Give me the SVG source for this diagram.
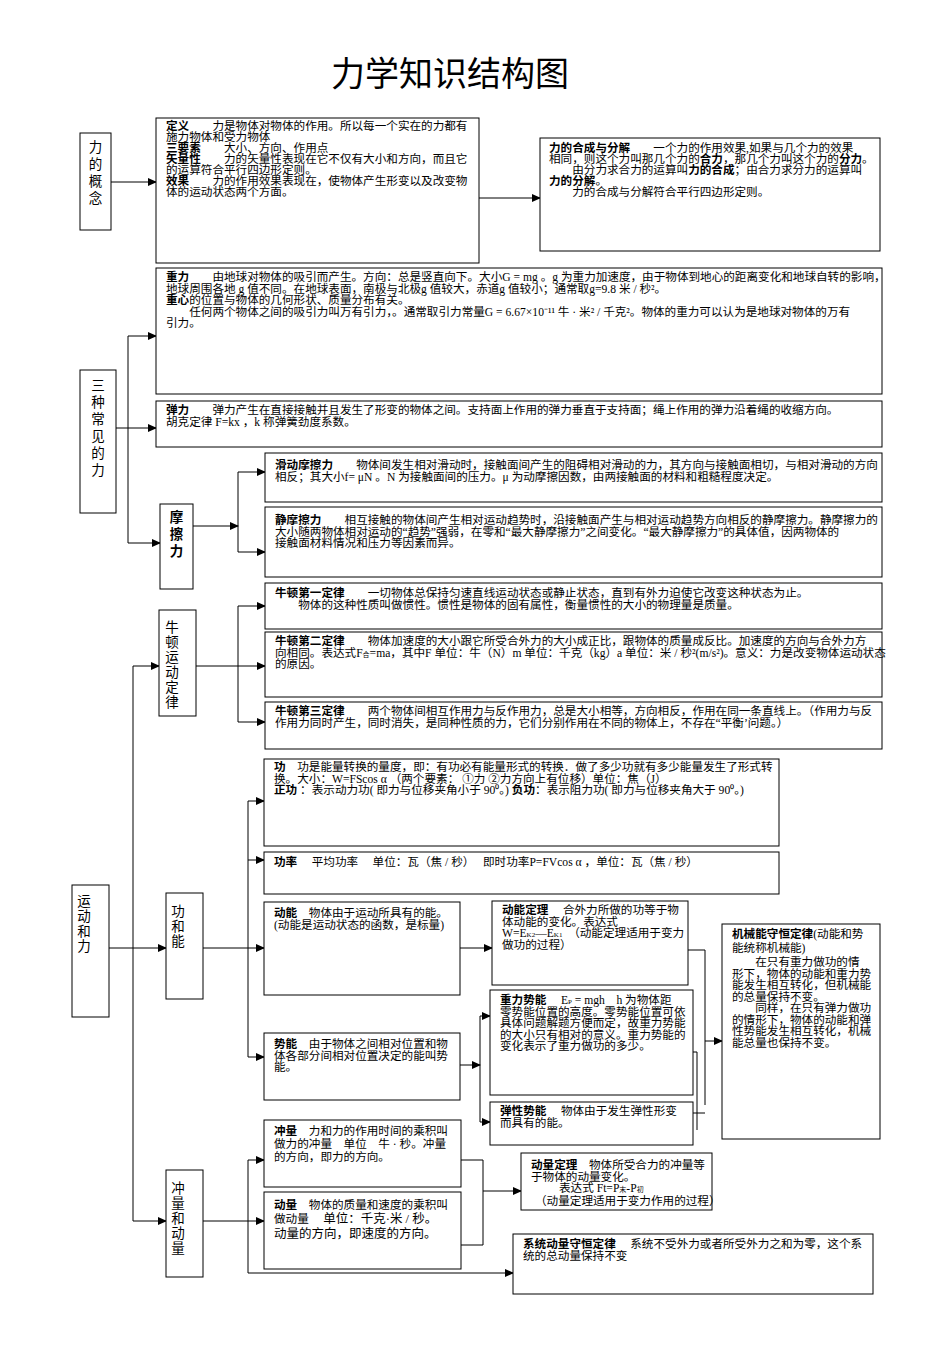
<svg xmlns="http://www.w3.org/2000/svg" width="950" height="1346" viewBox="0 0 950 1346">
<style>
.b{fill:#fff;stroke:#000;stroke-width:1}
text{font-family:"Liberation Serif","Noto Sans CJK SC",serif;font-size:11.6px;fill:#000}
.k{font-weight:bold;font-family:"Liberation Sans","Noto Sans CJK SC",sans-serif}
.v{font-size:13.5px;text-anchor:middle}
.c path{fill:none;stroke:#000;stroke-width:1}
.c .a{marker-end:url(#ar)}
</style>
<defs><marker id="ar" markerWidth="9" markerHeight="8" refX="8" refY="4" orient="auto" markerUnits="userSpaceOnUse"><path d="M0,0L9,4L0,8z" fill="#000"/></marker></defs>
<rect width="950" height="1346" fill="#fff"/>
<text x="450" y="86" style="font-size:34px;text-anchor:middle;font-family:'Liberation Sans','Noto Sans CJK SC',sans-serif">力学知识结构图</text>

<g class="c">
<path class="a" d="M111,182H156"/>
<path class="a" d="M479,198H540"/>
<path class="a" d="M116,428H156"/>
<path class="a" d="M128,428V336H156"/>
<path class="a" d="M128,428V543H160"/>
<path class="a" d="M193,526H238"/>
<path class="a" d="M238,526V472H265"/>
<path class="a" d="M238,526V552H265"/>
<path class="a" d="M109,948H166"/>
<path class="a" d="M133,948V666H159"/>
<path class="a" d="M133,948V1221H166"/>
<path class="a" d="M196,666H265"/>
<path class="a" d="M238,666V606H265"/>
<path class="a" d="M238,666V722H265"/>
<path class="a" d="M203,948H264"/>
<path class="a" d="M248,948V801H264"/>
<path class="a" d="M248,860H264"/>
<path class="a" d="M248,948V1057H264"/>
<path class="a" d="M460,948H492"/>
<path class="a" d="M460,1065H480"/>
<path class="a" d="M480,1065V1016H490"/>
<path class="a" d="M480,1065V1122H490"/>
<path d="M688,950H705V1105"/>
<path d="M693,1052H697V1130"/>
<path d="M693,1113H705"/>
<path class="a" d="M705,1041H722"/>
<path d="M461,1160H483V1245H461"/>
<path class="a" d="M483,1191H521"/>
<path class="a" d="M203,1221H264"/>
<path class="a" d="M248,1221V1160H264"/>
<path class="a" d="M248,1221V1273H513"/>
</g>

<g id="n-liconcept"><rect class="b" x="80" y="133" width="31" height="97"/><text class="v" x="95.5"><tspan x="95.5" y="152">力</tspan><tspan x="95.5" y="169">的</tspan><tspan x="95.5" y="186">概</tspan><tspan x="95.5" y="203">念</tspan></text></g>

<g id="n-def"><rect class="b" x="156" y="118" width="323" height="145"/><text x="166" y="130"><tspan class="k">定义</tspan>　　力是物体对物体的作用。所以每一个实在的力都有<tspan x="166" dy="11">施力物体和受力物体</tspan><tspan x="166" dy="11" class="k">三要素</tspan>　　大小、方向、作用点<tspan x="166" dy="11" class="k">矢量性</tspan>　　力的矢量性表现在它不仅有大小和方向，而且它<tspan x="166" dy="11">的运算符合平行四边形定则。</tspan><tspan x="166" dy="11" class="k">效果</tspan>　　力的作用效果表现在，使物体产生形变以及改变物<tspan x="166" dy="11">体的运动状态两个方面。</tspan></text></g>

<g id="n-compose"><rect class="b" x="540" y="138" width="340" height="113"/><text x="549" y="152"><tspan class="k">力的合成与分解</tspan>　　一个力的作用效果,如果与几个力的效果<tspan x="549" dy="11">相同，则这个力叫那几个力的</tspan><tspan class="k">合力</tspan>，那几个力叫这个力的<tspan class="k">分力</tspan>。<tspan x="549" dy="11">　　由分力求合力的运算叫</tspan><tspan class="k">力的合成</tspan>；由合力求分力的运算叫<tspan x="549" dy="11" class="k">力的分解</tspan>。<tspan x="549" dy="11">　　力的合成与分解符合平行四边形定则。</tspan></text></g>

<g id="n-three"><rect class="b" x="80" y="370" width="36" height="143"/><text class="v" x="98"><tspan x="98" y="390">三</tspan><tspan x="98" y="407">种</tspan><tspan x="98" y="424">常</tspan><tspan x="98" y="441">见</tspan><tspan x="98" y="458">的</tspan><tspan x="98" y="475">力</tspan></text></g>

<g id="n-gravity"><rect class="b" x="156" y="268" width="726" height="126"/><text x="166" y="281"><tspan class="k">重力</tspan>　　由地球对物体的吸引而产生。方向：总是竖直向下。大小G = mg 。g 为重力加速度，由于物体到地心的距离变化和地球自转的影响，<tspan x="166" dy="11.5">地球周围各地 g 值不同。在地球表面，南极与北极g 值较大，赤道g 值较小；通常取g=9.8 米 / 秒²。</tspan><tspan x="166" dy="11.5" class="k">重心</tspan>的位置与物体的几何形状、质量分布有关。<tspan x="166" dy="11.5">　　任何两个物体之间的吸引力叫万有引力，。通常取引力常量G = 6.67×10⁻¹¹ 牛 · 米² / 千克²。物体的重力可以认为是地球对物体的万有</tspan><tspan x="166" dy="11.5">引力。</tspan></text></g>

<g id="n-elastic"><rect class="b" x="156" y="401" width="726" height="46"/><text x="166" y="414"><tspan class="k">弹力</tspan>　　弹力产生在直接接触并且发生了形变的物体之间。支持面上作用的弹力垂直于支持面；绳上作用的弹力沿着绳的收缩方向。<tspan x="166" dy="11.5">胡克定律 F=kx ，k 称弹簧劲度系数。</tspan></text></g>

<g id="n-friction"><rect class="b" x="160" y="504" width="33" height="85"/><text class="v k" x="176.5"><tspan x="176.5" y="522">摩</tspan><tspan x="176.5" y="539">擦</tspan><tspan x="176.5" y="556">力</tspan></text></g>

<g id="n-slide"><rect class="b" x="265" y="453" width="617" height="49"/><text x="275" y="469"><tspan class="k">滑动摩擦力</tspan>　　物体间发生相对滑动时，接触面间产生的阻碍相对滑动的力，其方向与接触面相切，与相对滑动的方向<tspan x="275" dy="11.5">相反；其大小f= μN 。N 为接触面间的压力。μ 为动摩擦因数，由两接触面的材料和粗糙程度决定。</tspan></text></g>

<g id="n-static"><rect class="b" x="265" y="507" width="617" height="70"/><text x="275" y="524"><tspan class="k">静摩擦力</tspan>　　相互接触的物体间产生相对运动趋势时，沿接触面产生与相对运动趋势方向相反的静摩擦力。静摩擦力的<tspan x="275" dy="11.5">大小随两物体相对运动的“趋势”强弱，在零和“最大静摩擦力”之间变化。“最大静摩擦力”的具体值，因两物体的</tspan><tspan x="275" dy="11.5">接触面材料情况和压力等因素而异。</tspan></text></g>

<g id="n-newton"><rect class="b" x="159" y="610" width="37" height="106"/><text class="v" x="172"><tspan x="172" y="632">牛</tspan><tspan x="172" y="647">顿</tspan><tspan x="172" y="662">运</tspan><tspan x="172" y="677">动</tspan><tspan x="172" y="692">定</tspan><tspan x="172" y="707">律</tspan></text></g>

<g id="n-n1"><rect class="b" x="265" y="583" width="617" height="46"/><text x="275" y="597"><tspan class="k">牛顿第一定律</tspan>　　一切物体总保持匀速直线运动状态或静止状态，直到有外力迫使它改变这种状态为止。<tspan x="275" dy="11.5">　　物体的这种性质叫做惯性。惯性是物体的固有属性，衡量惯性的大小的物理量是质量。</tspan></text></g>

<g id="n-n2"><rect class="b" x="265" y="632" width="617" height="65"/><text x="275" y="645"><tspan class="k">牛顿第二定律</tspan>　　物体加速度的大小跟它所受合外力的大小成正比，跟物体的质量成反比。加速度的方向与合外力方<tspan x="275" dy="11.5">向相同。表达式F</tspan><tspan font-size="7">合</tspan>=ma，其中F 单位：牛（N）m 单位：千克（kg）a 单位：米 / 秒²(m/s²)。意义：力是改变物体运动状态<tspan x="275" dy="11.5">的原因。</tspan></text></g>

<g id="n-n3"><rect class="b" x="265" y="702" width="617" height="47"/><text x="275" y="715"><tspan class="k">牛顿第三定律</tspan>　　两个物体间相互作用力与反作用力，总是大小相等，方向相反，作用在同一条直线上。（作用力与反<tspan x="275" dy="11.5">作用力同时产生，同时消失，是同种性质的力，它们分别作用在不同的物体上，不存在“平衡’问题。）</tspan></text></g>

<g id="n-motion"><rect class="b" x="72" y="885" width="37" height="132"/><text class="v" x="84"><tspan x="84" y="906">运</tspan><tspan x="84" y="921">动</tspan><tspan x="84" y="936">和</tspan><tspan x="84" y="951">力</tspan></text></g>

<g id="n-workenergy"><rect class="b" x="166" y="893" width="37" height="106"/><text class="v" x="178"><tspan x="178" y="916">功</tspan><tspan x="178" y="931">和</tspan><tspan x="178" y="946">能</tspan></text></g>

<g id="n-work"><rect class="b" x="264" y="759" width="515" height="87"/><text x="274" y="771"><tspan class="k">功</tspan>　功是能量转换的量度，即：有功必有能量形式的转换．做了多少功就有多少能量发生了形式转<tspan x="274" dy="11.5">换。大小：W=FScos α （两个要素：  ①力   ②力方向上有位移）单位：焦（J）</tspan><tspan x="274" dy="11.5" class="k">正功</tspan> ：表示动力功( 即力与位移夹角小于 90⁰。)   <tspan class="k">负功</tspan>：表示阻力功( 即力与位移夹角大于 90⁰。)</text></g>

<g id="n-power"><rect class="b" x="264" y="852" width="515" height="42"/><text x="274" y="866"><tspan class="k">功率</tspan>　  平均功率　  单位：瓦（焦 / 秒）　   即时功率P=FVcos α ，单位：瓦（焦 / 秒）</text></g>

<g id="n-kinetic"><rect class="b" x="264" y="902" width="196" height="93"/><text x="274" y="917"><tspan class="k">动能</tspan>　物体由于运动所具有的能。<tspan x="274" dy="12">(动能是运动状态的函数，是标量)</tspan></text></g>

<g id="n-ketheorem"><rect class="b" x="492" y="901" width="196" height="84"/><text x="502" y="914"><tspan class="k">动能定理</tspan>　 合外力所做的功等于物<tspan x="502" dy="11.5">体动能的变化。表达式</tspan><tspan x="502" dy="11.5">W=E</tspan><tspan font-size="7">K2</tspan>—E<tspan font-size="7">K1</tspan>　（动能定理适用于变力<tspan x="502" dy="11.5">做功的过程）</tspan></text></g>

<g id="n-potential"><rect class="b" x="264" y="1033" width="196" height="67"/><text x="274" y="1048"><tspan class="k">势能</tspan>　由于物体之间相对位置和物<tspan x="274" dy="11.5">体各部分间相对位置决定的能叫势</tspan><tspan x="274" dy="11.5">能。</tspan></text></g>

<g id="n-gpe"><rect class="b" x="490" y="990" width="203" height="105"/><text x="500" y="1004"><tspan class="k">重力势能</tspan>　 E<tspan font-size="7">P</tspan> = mgh　h 为物体距<tspan x="500" dy="11.5">零势能位置的高度。零势能位置可依</tspan><tspan x="500" dy="11.5">具体问题解题方便而定，故重力势能</tspan><tspan x="500" dy="11.5">的大小只有相对的意义。重力势能的</tspan><tspan x="500" dy="11.5">变化表示了重力做功的多少。</tspan></text></g>

<g id="n-epe"><rect class="b" x="490" y="1102" width="203" height="43"/><text x="500" y="1115"><tspan class="k">弹性势能</tspan>　 物体由于发生弹性形变<tspan x="500" dy="11.5">而具有的能。</tspan></text></g>

<g id="n-mech"><rect class="b" x="722" y="924" width="158" height="215"/><text x="732" y="938"><tspan class="k">机械能守恒定律</tspan>(动能和势<tspan x="732" dy="14">能统称机械能)</tspan><tspan x="732" dy="14">　　在只有重力做功的情</tspan><tspan x="732" dy="11.5">形下，物体的动能和重力势</tspan><tspan x="732" dy="11.5">能发生相互转化，但机械能</tspan><tspan x="732" dy="11.5">的总量保持不变。</tspan><tspan x="732" dy="11.5">　　同样，在只有弹力做功</tspan><tspan x="732" dy="11.5">的情形下，物体的动能和弹</tspan><tspan x="732" dy="11.5">性势能发生相互转化，机械</tspan><tspan x="732" dy="11.5">能总量也保持不变。</tspan></text></g>

<g id="n-impmom"><rect class="b" x="166" y="1170" width="37" height="107"/><text class="v" x="178"><tspan x="178" y="1193">冲</tspan><tspan x="178" y="1208">量</tspan><tspan x="178" y="1223">和</tspan><tspan x="178" y="1238">动</tspan><tspan x="178" y="1253">量</tspan></text></g>

<g id="n-impulse"><rect class="b" x="264" y="1120" width="197" height="67"/><text x="274" y="1135"><tspan class="k">冲量</tspan>　力和力的作用时间的乘积叫<tspan x="274" dy="13">做力的冲量　单位　牛 · 秒。冲量</tspan><tspan x="274" dy="13">的方向，即力的方向。</tspan></text></g>

<g id="n-momentum"><rect class="b" x="264" y="1192" width="197" height="77"/><text x="274" y="1209"><tspan class="k">动量</tspan>　物体的质量和速度的乘积叫<tspan x="274" dy="14">做动量　 </tspan><tspan font-size="12.5">单位：千克·米 / 秒。</tspan><tspan x="274" dy="15" font-size="12.5">动量的方向，即速度的方向。</tspan></text></g>

<g id="n-momtheorem"><rect class="b" x="521" y="1153" width="191" height="57"/><text x="531" y="1169"><tspan class="k">动量定理</tspan>　物体所受合力的冲量等<tspan x="531" dy="11.5">于物体的动量变化。</tspan><tspan x="559" dy="11.5">表达式 Ft=P</tspan><tspan font-size="7">末</tspan>-P<tspan font-size="7">初</tspan><tspan x="535" dy="13">（动量定理适用于变力作用的过程）</tspan></text></g>

<g id="n-conserve"><rect class="b" x="513" y="1234" width="360" height="60"/><text x="523" y="1248"><tspan class="k">系统动量守恒定律</tspan>　  系统不受外力或者所受外力之和为零，这个系<tspan x="523" dy="11.5">统的总动量保持不变</tspan></text></g>
</svg>
